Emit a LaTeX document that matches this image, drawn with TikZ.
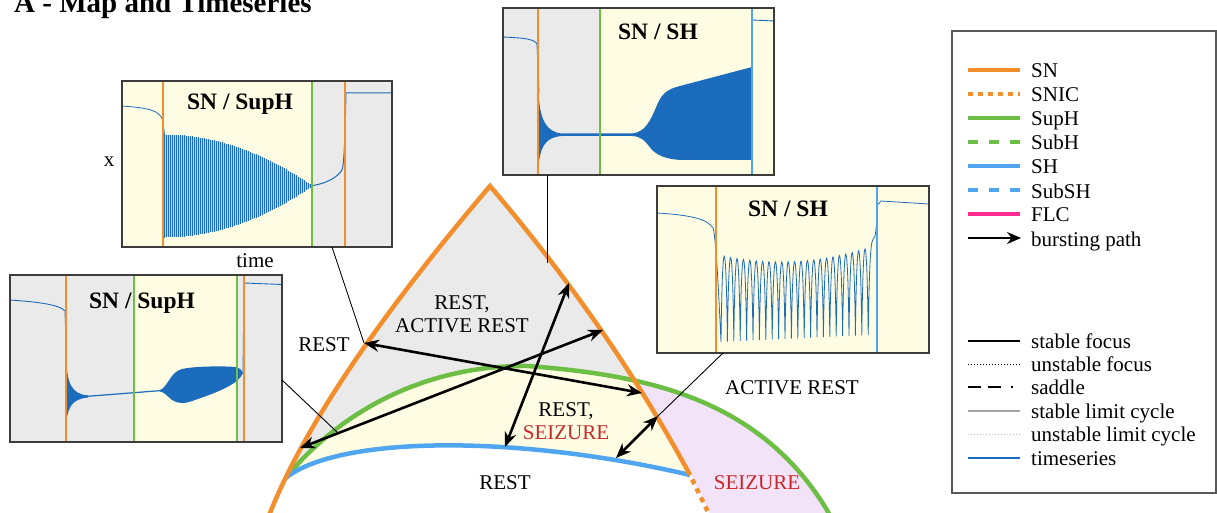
\documentclass[tikz,border=0pt]{standalone}
\usepackage{fontspec}
\setmainfont{Liberation Serif}
\usetikzlibrary{arrows.meta}
\definecolor{snorange}{RGB}{242,142,43}
\definecolor{hgreen}{RGB}{108,190,69}
\definecolor{shblue}{RGB}{80,165,240}
\definecolor{tsblue}{RGB}{28,108,190}
\definecolor{flcpink}{RGB}{255,45,145}
\definecolor{bggrey}{RGB}{234,234,234}
\definecolor{bgyellow}{RGB}{254,252,226}
\definecolor{bgpink}{RGB}{243,227,248}
\definecolor{seizred}{RGB}{200,40,40}
\definecolor{framegrey}{RGB}{60,60,60}
\definecolor{lcgrey}{RGB}{165,165,165}
\begin{document}
\begin{tikzpicture}[x=1pt,y=-1pt,
  declare function={Tf(\x)=255+33.8*((\x-718)/150)-40.8*((\x-718)/150)^2; Bf(\x)=342-7*(\x-718)/150; Tc(\x)=Bf(\x)+(Tf(\x)-Bf(\x))/0.75; Af(\x)=51*(1-((\x-164)/148)^2);},
  snline/.style={snorange,line width=4.5pt},
  sniline/.style={snorange,line width=4.5pt,dash pattern=on 5pt off 5pt},
  supline/.style={hgreen,line width=4.5pt},
  shline/.style={shblue,line width=4.5pt},
  burst/.style={line width=2.6pt,>={Stealth[length=15pt,width=12pt]},<->},
  lead/.style={line width=0.9pt},
  ts/.style={tsblue,line width=0.9pt},
  vorange/.style={snorange,line width=2.2pt},
  vgreen/.style={hgreen,line width=2pt},
  vblue/.style={shblue,line width=2pt},
  frame/.style={draw=framegrey,line width=1.6pt,inner sep=0pt,outer sep=0pt},
  lab/.style={font=\fontsize{21}{23}\selectfont,inner sep=0pt,align=center},
  ttl/.style={font=\fontsize{23.5}{26}\selectfont\bfseries,inner sep=0pt,anchor=base},
  legtxt/.style={font=\fontsize{21}{23}\selectfont,inner sep=0pt,anchor=base west}]
\clip (0,0) rectangle (1217,513);
\fill[white] (0,0) rectangle (1217,513);

% title
\node[anchor=base west,font=\fontsize{29}{32}\selectfont\bfseries,inner sep=0pt] (title) at (14,13) {A - Map and Timeseries};

% ---------- map ----------
\begin{scope}
\clip (490,186) .. controls (571.1,281.3) and (637.7,377.7) .. (690,475) -- (709.5,515) -- (950,515) -- (950,186) -- cycle;
\fill[bgpink] (285.5,478) .. controls (350,400) and (440,365) .. (527,366) .. controls (650,375) and (760,400) .. (827,510) -- (829,515) -- (250,515) -- cycle;
\end{scope}
\begin{scope}
\clip (490,186) .. controls (377.7,318.1) and (304.3,427.1) .. (270,513) -- (268,516) -- (711,516) -- (690,475) .. controls (637.7,377.7) and (571.1,281.3) .. (490,186) -- cycle;
\fill[bggrey] (0,0) rectangle (1217,513);
\fill[bgyellow] (285.5,478) .. controls (350,400) and (440,365) .. (527,366) .. controls (650,375) and (760,400) .. (827,510) -- (829,515) -- (250,515) -- cycle;
\fill[white] (285.5,478) .. controls (340,435) and (520,435) .. (690,475) -- (720,515) -- (250,515) -- cycle;
\end{scope}
\draw[supline] (285.5,478) .. controls (350,400) and (440,365) .. (527,366) .. controls (650,375) and (760,400) .. (827,510) -- (829.5,515);
\draw[shline] (285.5,478) .. controls (340,435) and (520,435) .. (690,475);
\draw[snline,line join=miter] (268.5,516) -- (270,513) .. controls (304.3,427.1) and (377.7,318.1) .. (490,186) .. controls (571.1,281.3) and (637.7,377.7) .. (690,475);
\draw[sniline,dash phase=5pt] (690,475) -- (709.5,515);

% map labels
\node[lab] (lrest1) at (324,345) {REST};
\node[lab] (lrar) at (462,314.5) {REST,\\ACTIVE REST};
\node[lab] (lrs) at (566,421) {REST,\\\textcolor{seizred}{SEIZURE}};
\node[lab] (lrest2) at (505,483) {REST};
\node[lab] (lar) at (792,388) {ACTIVE REST};
\node[lab,text=seizred] (lseiz) at (757,483) {SEIZURE};

% arrow end points
\coordinate (a1l) at (364,343);
\coordinate (a1r) at (642,393);
\coordinate (a2l) at (300,448);
\coordinate (a2r) at (603,330);
\coordinate (a3t) at (569,283);
\coordinate (a3b) at (505,447);
\coordinate (a4t) at (658,416);
\coordinate (a4b) at (616,458);
\coordinate (g1) at (338,433);
\coordinate (c3) at (547,263);

% ---------- inset 1 ----------
\fill[bgyellow] (122,81) rectangle (312,247);
\fill[bggrey] (312,81) rectangle (392,247);
\fill[tsblue!28] plot[domain=164:312,samples=40] (\x,{186-Af(\x)}) -- plot[domain=312:164,samples=40] (\x,{186+Af(\x)}) -- cycle;
\foreach \k in {0,...,73}
  \draw[tsblue,line width=1pt] ({164.5+2*\k},{186-Af(164.5+2*\k)-0.5}) -- ({164.5+2*\k},{186+Af(164.5+2*\k)+0.5});
\draw[ts,line width=0.8pt] (122,106) .. controls (148,108) and (160,110) .. (163,121) -- (164.5,135);
\draw[ts,line width=1pt] (310,186) .. controls (325,184) and (337,178) .. (342,170) .. controls (344,165) and (345,140) .. (346,93) -- (392,93);
\draw[vorange] (163,81) -- (163,247);
\draw[vorange] (345,81) -- (345,247);
\draw[vgreen] (312,81) -- (312,247);
\node[frame,minimum width=270pt,minimum height=166pt] (ins1) at (257,164) {};
\node[ttl] (t1) at (240,110) {SN / SupH};
\node[lab] (xl) at (109,162) {x};
\node[lab,anchor=base] (tl) at (255,267) {time};

% ---------- inset 2 ----------
\fill[bggrey] (10,275) rectangle (282,442);
\fill[bgyellow] (134,275) rectangle (237,442);
\draw[ts] (10,300) .. controls (40,302) and (60,305) .. (65,311) -- (66.5,357);
\fill[tsblue] (66,357) .. controls (67,383) and (71,394) .. (88,395.5) -- (88,397.5) .. controls (71,399) and (67,408) .. (66,428) -- cycle;
\draw[ts,line width=1.2pt] (85,396.5) -- (162,390.5);
\fill[tsblue] (160,390) .. controls (168,387) and (170,372) .. (182,369) .. controls (195,366) and (225,366) .. (235,367) .. controls (240,368) and (242,370) .. (243,373) .. controls (238,385) and (215,393) .. (195,400) .. controls (185,404) and (178,404) .. (172,400) .. controls (166,395) and (164,392) .. (160,391.5) -- cycle;
\draw[ts] (243,374) -- (244,283) -- (282,284.5);
\draw[vorange] (66,275) -- (66,442);
\draw[vorange] (244,275) -- (244,442);
\draw[vgreen] (134,275) -- (134,442);
\draw[vgreen] (237,275) -- (237,442);
\node[frame,minimum width=272pt,minimum height=167pt] (ins2) at (146,358.5) {};
\node[ttl] (t2) at (142,308) {SN / SupH};

% ---------- inset 3 ----------
\fill[bggrey] (503,8) rectangle (600,175);
\fill[bgyellow] (600,8) rectangle (774,175);
\draw[ts] (503,37) .. controls (525,38) and (534,39) .. (537,44) -- (539,93);
\fill[tsblue] (538.5,93) .. controls (540,120) and (546,132) .. (562,133.5) -- (632,133.5) .. controls (645,132) and (650,122) .. (657,105) .. controls (662,93) and (668,89) .. (680,86) -- (752,67) -- (752,160) -- (680,160) .. controls (668,159) and (660,157) .. (652,150) .. controls (645,141) and (642,136.5) .. (632,136) -- (562,136) .. controls (546,137) and (540,146) .. (538.5,167) -- cycle;
\draw[ts] (752,70) -- (752.5,20) -- (774,21);
\draw[vorange] (538,8) -- (538,175);
\draw[vgreen] (600,8) -- (600,175);
\draw[vblue] (752,8) -- (752,175);
\node[frame,minimum width=271pt,minimum height=167pt] (ins3) at (638.5,91.5) {};
\node[ttl] (t3) at (658,40) {SN / SH};

% ---------- inset 4 ----------
\fill[bgyellow] (657,186) rectangle (929,353);
\draw[ts,line width=0.8pt] (657,213) .. controls (690,215) and (708,219) .. (713,228) .. controls (716,236) and (719,300) .. (721,342)
  \foreach \k in {0,...,22} { .. controls ({722.3+6.4*\k},{Tc(724.2+6.4*\k)}) and ({726.1+6.4*\k},{Tc(724.2+6.4*\k)}) .. ({727.4+6.4*\k},{Bf(727.4+6.4*\k)}) }
  .. controls (869.5,250) and (871,240) .. (874,238) .. controls (876,236) and (877,220) .. (877.5,205) -- (881,201) -- (929,204);
\draw[vorange] (716,186) -- (716,353);
\draw[vblue] (877,186) -- (877,353);
\node[frame,minimum width=272pt,minimum height=167pt] (ins4) at (793,269.5) {};
\node[ttl] (t4) at (788,216) {SN / SH};

% ---------- leads and arrows ----------
\coordinate (l1) at (332,247);
\coordinate (l2) at (282,380);
\coordinate (l3) at (547,175);
\coordinate (l4) at (723,353);
\draw[lead] (l1) -- (a1l);
\draw[lead] (l2) -- (g1);
\draw[lead] (l3) -- (c3);
\draw[lead] (l4) -- (a4t);
\draw[burst] (a1l) -- (a1r);
\draw[burst] (a2l) -- (a2r);
\draw[burst] (a3t) -- (a3b);
\draw[burst] (a4t) -- (a4b);

% ---------- legend ----------
\node[draw=framegrey!85,line width=1.4pt,minimum width=264pt,minimum height=462pt,inner sep=0pt] (legend) at (1084,262) {};
\draw[snline] (968,70) -- (1020,70);
\node[legtxt] (k1) at (1031,78) {SN};
\draw[sniline] (968,94) -- (1020,94);
\node[legtxt] (k2) at (1031,102) {SNIC};
\draw[supline] (968,118) -- (1020,118);
\node[legtxt] (k3) at (1031,126) {SupH};
\draw[supline,dash pattern=on 10pt off 11pt] (968,142) -- (1020,142);
\node[legtxt] (k4) at (1031,150) {SubH};
\draw[shline] (968,166) -- (1020,166);
\node[legtxt] (k5) at (1031,174) {SH};
\draw[shline,dash pattern=on 10pt off 11pt] (968,190) -- (1020,190);
\node[legtxt] (k6) at (1031,198) {SubSH};
\draw[flcpink,line width=4.5pt] (968,214) -- (1020,214);
\node[legtxt] (k7) at (1031,222) {FLC};
\draw[line width=2.5pt,-{Stealth[length=14pt,width=12pt]}] (968,238) -- (1021,238);
\node[legtxt] (k8) at (1031,246) {bursting path};
\draw[line width=1.6pt] (968,341) -- (1020,341);
\node[legtxt] (k9) at (1031,348) {stable focus};
\draw[line width=1pt,dash pattern=on 1pt off 2pt] (968,364) -- (1020,364);
\node[legtxt] (k10) at (1031,371) {unstable focus};
\draw[line width=1.8pt,dash pattern=on 13pt off 7pt on 13pt off 10pt on 2pt off 20pt] (968,387) -- (1020,387);
\node[legtxt] (k11) at (1031,394) {saddle};
\draw[lcgrey,line width=1.6pt] (968,411) -- (1020,411);
\node[legtxt] (k12) at (1031,418) {stable limit cycle};
\draw[lcgrey!80,line width=1pt,dash pattern=on 1pt off 2pt] (968,434) -- (1020,434);
\node[legtxt] (k13) at (1031,441) {unstable limit cycle};
\draw[tsblue,line width=1.6pt] (968,458) -- (1020,458);
\node[legtxt] (k14) at (1031,465) {timeseries};
\end{tikzpicture}
\end{document}
